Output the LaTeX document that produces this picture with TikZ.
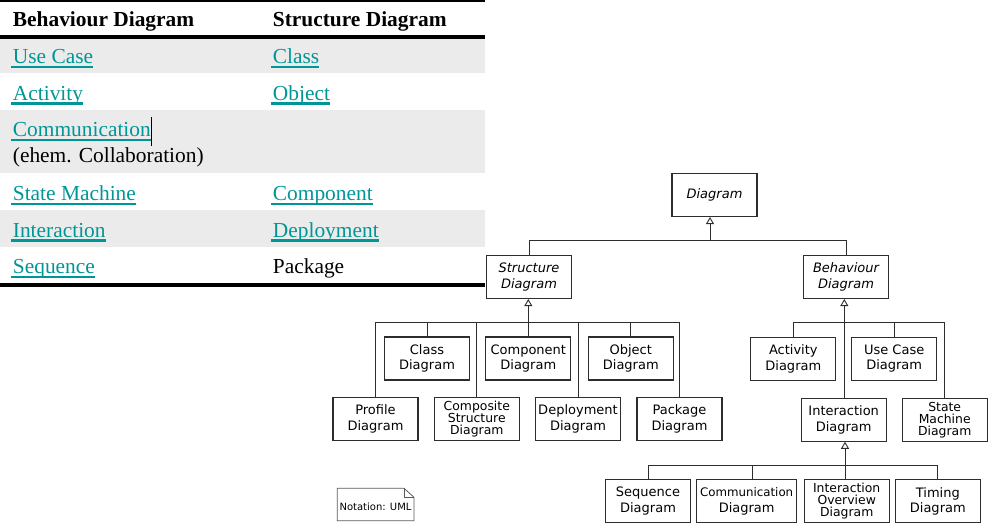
\documentclass[tikz,border=0pt]{standalone}
\usepackage{fontspec}
\setmainfont{Liberation Serif}
\newfontfamily\dvsans{DejaVu Sans}
\usetikzlibrary{arrows.meta}
\definecolor{linkc}{RGB}{0,150,150}
\definecolor{rowg}{RGB}{235,235,235}
\definecolor{boxc}{RGB}{45,45,45}
\definecolor{notec}{RGB}{90,90,90}
\begin{document}
\begin{tikzpicture}[x=1pt,y=-1pt,
 tbl/.style={inner sep=0pt, anchor=base west, font=\fontsize{21.4}{25}\selectfont},
 hdr/.style={tbl, font=\fontsize{21.4}{25}\selectfont\bfseries},
 lnk/.style={tbl, text=linkc},
 ul/.style={draw=linkc, line width=2.2pt},
 rulel/.style={line width=3.6pt},
 uml/.style={draw=boxc, line width=1.1pt, minimum width=85pt, minimum height=43pt, inner sep=0pt, align=center, font=\dvsans\fontsize{13}{15.5}\selectfont},
 umli/.style={uml, font=\dvsans\itshape\fontsize{13}{15.5}\selectfont},
 tight/.style={font=\dvsans\fontsize{12.4}{12}\selectfont},
 conn/.style={draw=boxc, line width=0.9pt},
 gen/.style={conn, -{Triangle[open, width=8pt, length=7pt]}},
]
\useasboundingbox (0,0) rectangle (993,529);

% ---- table ----
\fill[rowg] (0,38.7) rectangle (485,73);
\fill[rowg] (0,110) rectangle (485,173);
\fill[rowg] (0,210) rectangle (485,247);
\draw[line width=2pt] (0,1) -- (485,1);
\draw[rulel] (0,36.9) -- (485,36.9);
\draw[rulel] (0,285.2) -- (485,285.2);

\node[hdr] (h1) at (12.7,26.7) {Behaviour Diagram};
\node[hdr] (h2) at (272.7,26.7) {Structure Diagram};

\node[lnk] (uc) at (12.7,64) {Use Case};
\node[lnk] (cls) at (272.7,64) {Class};
\node[lnk] (act) at (12.7,100.7) {Activity};
\node[lnk] (obj) at (272.7,100.7) {Object};
\node[lnk] (com) at (12.7,137) {Communication};
\node[tbl] (collab) at (12.7,162.7) {(ehem. Collaboration)};
\node[lnk] (sm) at (12.7,201) {State Machine};
\node[lnk] (cmp) at (272.7,201) {Component};
\node[lnk] (inter) at (12.7,237.7) {Interaction};
\node[lnk] (dep) at (272.7,237.7) {Deployment};
\node[lnk] (seq) at (12.7,274) {Sequence};
\node[tbl] (pkg) at (272.7,274) {Package};
\foreach \n in {uc,cls,act,obj,com,sm,cmp,inter,dep,seq}
  \draw[ul] ([yshift=-2.8pt,xshift=-1.5pt]\n.base west) -- ([yshift=-2.8pt]\n.base east);
\draw[line width=0.7pt] (151.7,117.3) -- (151.7,145.7);

% ---- UML tree ----
\node[umli] (dg) at (714.5,195) {Diagram};
\node[umli] (st) at (529,277) {Structure\\Diagram};
\node[umli] (bh) at (846,277) {Behaviour\\Diagram};

\node[uml] (cl) at (427,358.5) {Class\\Diagram};
\node[uml] (cm) at (528.3,358.5) {Component\\Diagram};
\node[uml] (ob) at (630.8,358.5) {Object\\Diagram};
\node[uml] (pr) at (375.5,418.7) {Profile\\Diagram};
\node[uml,tight] (cs) at (476.8,418.7) {Composite\\Structure\\Diagram};
\node[uml] (dp) at (578,418.7) {Deployment\\Diagram};
\node[uml] (pk) at (679.5,418.7) {Package\\Diagram};

\node[uml] (ac) at (793.3,358.7) {Activity\\Diagram};
\node[uml] (us) at (894.2,358.7) {Use Case\\Diagram};
\node[uml] (ia) at (843.7,419.7) {Interaction\\Diagram};
\node[uml,tight] (sm2) at (944.7,419.7) {State\\Machine\\Diagram};

\node[uml] (sq) at (648,501.2) {Sequence\\Diagram};
\node[uml,minimum width=100pt] (cmm) at (746.7,501.2) {{\fontsize{11.8}{14}\selectfont Communication}\\Diagram};
\node[uml,tight] (io) at (846.7,501.2) {Interaction\\Overview\\Diagram};
\node[uml] (tm) at (937.8,501.2) {Timing\\Diagram};

% top level
\coordinate (j0) at (710,240.7);
\draw[conn] (st.north) |- (j0) -| (bh.north);
\draw[gen] (j0) -- (j0 |- dg.south);

% structure group
\coordinate (j1) at (528.3,322.7);
\draw[gen] (j1) -- (j1 |- st.south);
\draw[conn] (pr.north) -- (pr.north |- j1) -- (pk.north |- j1) -- (pk.north);
\foreach \n in {cl,cm,cs,ob,dp} \draw[conn] (\n.north) -- (\n.north |- j1);

% behaviour group
\coordinate (j2) at (844.3,322.7);
\draw[gen] (j2) -- (j2 |- bh.south);
\draw[conn] (j2) -- (j2 |- ia.north);
\draw[conn] (ac.north) -- (ac.north |- j2) -- (sm2.north |- j2) -- (sm2.north);
\draw[conn] (us.north) -- (us.north |- j2);

% interaction group
\coordinate (j3) at (845,465);
\draw[gen] (j3) -- (j3 |- ia.south);
\draw[conn] (j3) -- (j3 |- io.north);
\draw[conn] (sq.north) -- (sq.north |- j3) -- (tm.north |- j3) -- (tm.north);
\draw[conn] ([xshift=6pt]cmm.north) -- ([xshift=6pt]cmm.north |- j3);

% note
\draw[notec, line width=0.8pt] (337.3,488.3) -- (404,488.3) -- (414,497.3) -- (414,520.7) -- (337.3,520.7) -- cycle;
\draw[notec, line width=0.8pt] (404,488.3) -- (404,497.3) -- (414,497.3);
\node[font=\dvsans\fontsize{10}{12}\selectfont, inner sep=0pt] (nt) at (375.5,507) {Notation: UML};
\end{tikzpicture}
\end{document}
